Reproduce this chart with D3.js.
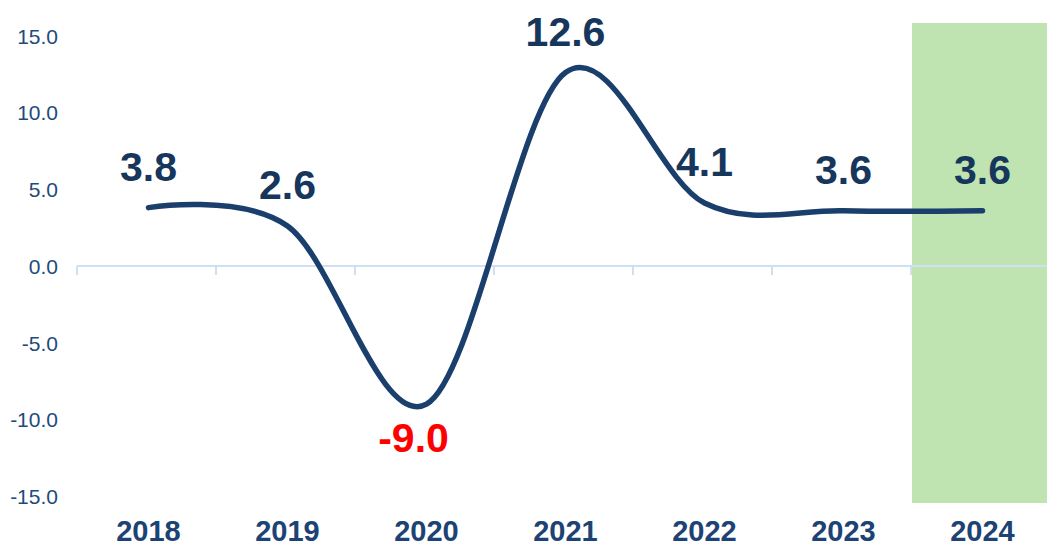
<!DOCTYPE html>
<html><head><meta charset="utf-8">
<script src="https://cdn.jsdelivr.net/npm/d3@7"></script>
<style>html,body{margin:0;padding:0;background:#fff;}svg{display:block;}</style>
</head><body>
<svg id="c" width="1047" height="546"></svg>
<script>
const categories = ["2018","2019","2020","2021","2022","2023","2024"];
const values = [3.8, 2.6, -9.0, 12.6, 4.1, 3.6, 3.6];
const labels = ["3.8","2.6","-9.0","12.6","4.1","3.6","3.6"];
const yTicks = [-15, -10, -5, 0, 5, 10, 15];
const yTickLabels = ["-15.0","-10.0","-5.0","0.0","5.0","10.0","15.0"];
const highlight = ["2024"];

const svg = d3.select("#c");
const x = d3.scaleBand().domain(categories).range([77, 1050]).padding(0);
const y = d3.scaleLinear().domain([-15, 15]).range([496.3, 35.7]);

// highlight band
svg.selectAll("rect.hl").data(highlight).join("rect")
  .attr("x", d => x(d) + 1).attr("width", x.bandwidth())
  .attr("y", 23).attr("height", 480)
  .attr("fill", "#bfe4b1");

// y axis labels
const yAxis = d3.axisLeft(y).tickValues(yTicks)
  .tickFormat((d, i) => yTickLabels[i]).tickSize(0).tickPadding(0);
const ya = svg.append("g").attr("transform", "translate(58,0)").call(yAxis);
ya.select(".domain").remove();
ya.selectAll("text").attr("font-family", "Liberation Sans, Arial, sans-serif")
  .attr("font-size", 21).attr("fill", "#1f4a7c").attr("dy", "0.35em");

// x axis at zero
const xAxis = d3.axisBottom(x).tickSize(0).tickFormat("");
const xa = svg.append("g").attr("transform", `translate(0,${y(0)})`).call(xAxis);
xa.select(".domain").attr("stroke", "#cfe0f3").attr("stroke-width", 2).attr("d", `M77,0H1050`);
xa.selectAll(".tick").remove();
const bounds = categories.map(c => x(c)).concat([x(categories[categories.length-1]) + x.bandwidth()]);
xa.selectAll("line.tk").data(bounds).join("line")
  .attr("x1", d => d).attr("x2", d => d).attr("y1", 0).attr("y2", 9)
  .attr("stroke", "#cfe0f3").attr("stroke-width", 2);

// category labels at bottom
svg.selectAll("text.cat").data(categories).join("text")
  .attr("x", d => x(d) + x.bandwidth()/2 + 2).attr("y", 541)
  .attr("text-anchor", "middle")
  .attr("font-family", "Liberation Sans, Arial, sans-serif")
  .attr("font-weight", "bold").attr("font-size", 29).attr("fill", "#1c4373")
  .text(d => d);

// line
const pts = categories.map((c, i) => [x(c) + x.bandwidth()/2 + 2, y(values[i])]);
svg.append("path").datum(pts)
  .attr("d", d3.line().curve(d3.curveCardinal.tension(0)))
  .attr("fill", "none").attr("stroke", "#1b3f6c").attr("stroke-width", 5.5)
  .attr("stroke-linecap", "round").attr("stroke-linejoin", "round");

// data labels
svg.selectAll("text.dl").data(categories).join("text")
  .attr("x", (c, i) => pts[i][0] + (values[i] < 0 ? -13 : 0))
  .attr("y", (c, i) => pts[i][1] + (values[i] < 0 ? 48 : -27))
  .attr("text-anchor", "middle")
  .attr("font-family", "Liberation Sans, Arial, sans-serif")
  .attr("font-weight", "bold").attr("font-size", 41)
  .attr("fill", (c, i) => values[i] < 0 ? "#ff0000" : "#16365c")
  .text((c, i) => labels[i]);
</script>
</body></html>
